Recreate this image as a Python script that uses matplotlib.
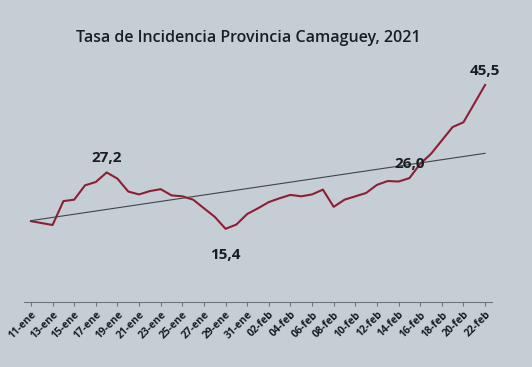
import numpy as np
import matplotlib.pyplot as plt
import datetime as dt

# daily incidence rate, 11-ene .. 22-feb 2021
rate = [17.0, 16.6, 16.2, 21.2, 21.5, 24.5, 25.2, 27.2, 25.9, 23.2,
        22.6, 23.3, 23.7, 22.4, 22.2, 21.5, 19.7, 17.9, 15.4, 16.3,
        18.5, 19.7, 21.0, 21.8, 22.5, 22.2, 22.6, 23.6, 20.0, 21.5,
        22.2, 22.9, 24.6, 25.4, 25.3, 26.0, 29.0, 31.1, 33.9, 36.7,
        37.7, 41.6, 45.5]
months = {1: 'ene', 2: 'feb'}
start = dt.date(2021, 1, 11)
dates = [start + dt.timedelta(days=i) for i in range(len(rate))]
labels = ['%02d-%s' % (d.day, months[d.month]) for d in dates]
# points that carry a data label
marked = [7, 18, 35, 42]

days = np.arange(len(rate))

#figure setup
fig = plt.figure(figsize=(5.32, 3.67), dpi=100)
fig.patch.set_facecolor('#c5cdd5')
ax = fig.add_axes([0.046, 0.176, 0.878, 0.651])
ax.set_facecolor('#c5cdd5')

#main series
ax.plot(days, rate, color='#8e1f33', lw=1.5, solid_joinstyle='round')

#linear trend line
coeffs = np.polyfit(days, rate, 1)
ax.plot(days, np.polyval(coeffs, days), color='#3c464c', lw=0.8)

#data labels
for i in marked:
    txt = ('%.1f' % rate[i]).replace('.', ',')
    if i == 18:
        ax.annotate(txt, (days[i], rate[i]), xytext=(0, -14),
                    textcoords='offset points', ha='center', va='top',
                    fontsize=11, fontweight='bold', color='#1a1e22',
                    family='Open Sans')
    else:
        ax.annotate(txt, (days[i], rate[i]), xytext=(0, 5),
                    textcoords='offset points', ha='center', va='bottom',
                    fontsize=11, fontweight='bold', color='#1a1e22',
                    family='Open Sans')

#axes styling
ax.set_xlim(-0.6, 42.6)
ax.set_ylim(0, 50)
ax.set_yticks([])
for s in ['top', 'right', 'left']:
    ax.spines[s].set_visible(False)
ax.spines['bottom'].set_color('#6d767d')
ax.spines['bottom'].set_linewidth(0.8)
ax.set_xticks(days[::2])
ax.set_xticklabels(labels[::2], rotation=45, ha='right', rotation_mode='anchor',
                   fontsize=7.5, fontweight='bold', color='#1a1e22',
                   family='Open Sans')
ax.tick_params(axis='x', length=3, color='#6d767d', pad=2)

#title
fig.text(0.466, 0.896, 'Tasa de Incidencia Provincia Camaguey, 2021',
         ha='center', va='center', fontsize=11.5, fontweight='semibold',
         color='#1a1e22', family='Open Sans')

plt.savefig('out.png', dpi=100, facecolor=fig.get_facecolor())
